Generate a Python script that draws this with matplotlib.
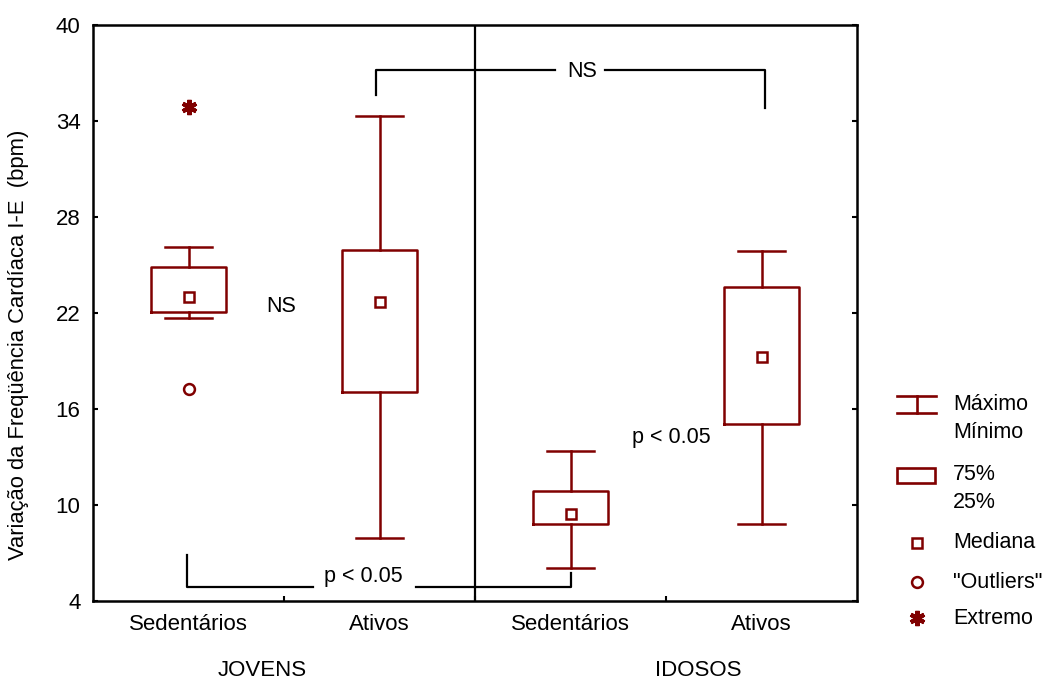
import matplotlib
matplotlib.use('Agg')
import matplotlib.pyplot as plt
import matplotlib.transforms as mtransforms
from matplotlib.patches import Rectangle

plt.rcParams['font.family'] = ['Liberation Sans', 'DejaVu Sans']

# ---- data ----
categories = ['Sedentários', 'Ativos', 'Sedentários', 'Ativos']
groups = ['JOVENS', 'IDOSOS']
whisker_high = [26.1, 34.3, 13.4, 25.9]
q3 = [24.85, 25.95, 10.9, 23.6]
median = [23.0, 22.7, 9.45, 19.25]
q1 = [22.05, 17.05, 8.8, 15.05]
whisker_low = [21.7, 7.95, 6.05, 8.8]
outliers = [[17.25], [], [], []]
extremes = [[34.9], [], [], []]
yticks = [4, 10, 16, 22, 28, 34, 40]

RED = '#800000'
W, H = 1048, 680
fig = plt.figure(figsize=(W / 100, H / 100), dpi=100)
ax = fig.add_axes([93 / W, (H - 601) / H, 764 / W, 576 / H])

pos = list(range(1, len(categories) + 1))
stats = [dict(med=m, q1=a, q3=b, whislo=lo, whishi=hi, fliers=[])
         for m, a, b, lo, hi in zip(median, q1, q3, whisker_low, whisker_high)]
lp = dict(color=RED, linewidth=1.8)
ax.bxp(stats, positions=pos, widths=0.39, capwidths=0.25, showfliers=False,
       boxprops=lp, whiskerprops=lp, capprops=lp,
       medianprops=dict(linewidth=0, alpha=0))
ax.plot(pos, median, ls='none', marker='s', ms=7.2, mfc='white', mec=RED, mew=1.8, zorder=5)
for p, outs in zip(pos, outliers):
    for v in outs:
        ax.plot(p, v, ls='none', marker='o', ms=7.8, mfc='white', mec=RED, mew=1.8, zorder=5)
for p, exs in zip(pos, extremes):
    for v in exs:
        ax.plot(p, v, ls='none', marker=(6, 2, 0), ms=11, mec=RED, mew=3, zorder=5)

ax.set_xlim(0.5, 4.5)
ax.set_ylim(4, 40)
ax.set_yticks(yticks)
ax.set_xticks(pos)
ax.set_xticklabels(categories)
ax.set_xticks([1.5, 2.5, 3.5], minor=True)
ax.tick_params(axis='x', which='major', length=0, pad=9, labelsize=16)
ax.tick_params(axis='x', which='minor', direction='in', length=3.5, width=1.5)
ax.tick_params(axis='y', direction='in', length=3.5, width=1.5, right=True,
               pad=9, labelsize=16)
for s in ax.spines.values():
    s.set_linewidth(1.8)

ax.axvline(2.5, color='black', lw=1.6)

# annotations
k = dict(color='black', lw=1.6, clip_on=False)
ax.text(1.485, 22.4, 'NS', ha='center', va='center', fontsize=15.5)
ax.text(3.53, 14.2, 'p < 0.05', ha='center', va='center', fontsize=15.5)
# bottom bracket
ax.plot([0.99, 0.99, 1.65], [6.85, 4.875, 4.875], **k)
ax.plot([2.19, 3, 3], [4.875, 4.875, 5.75], **k)
ax.text(1.915, 5.2, 'p < 0.05', ha='center', va='baseline', fontsize=15.5)
# top bracket
ax.plot([1.98, 1.98, 2.92], [35.6, 37.19, 37.19], **k)
ax.plot([3.18, 4.02, 4.02], [37.19, 37.19, 34.8], **k)
ax.text(3.06, 36.75, 'NS', ha='center', va='baseline', fontsize=15.5)

# group labels
tr = mtransforms.blended_transform_factory(ax.transData, ax.transAxes)
ax.text(1.385, -0.12, groups[0], transform=tr, ha='center', va='center', fontsize=16)
ax.text(3.67, -0.12, groups[1], transform=tr, ha='center', va='center', fontsize=16)

fig.text(19 / W, 1 - 345 / H, 'Variação da Freqüência Cardíaca I-E  (bpm)',
         rotation=90, ha='center', va='center', fontsize=15.8)

# legend (pixel coordinates overlay)
lg = fig.add_axes([0, 0, 1, 1])
lg.set_xlim(0, W)
lg.set_ylim(H, 0)
lg.axis('off')
lg.patch.set_alpha(0)
lk = dict(color=RED, lw=1.9)
lg.plot([897, 936], [396, 396], **lk)
lg.plot([897, 936], [413, 413], **lk)
lg.plot([917, 917], [396, 413], **lk)
lg.add_patch(Rectangle((897, 468), 38, 15, fill=False, edgecolor=RED, lw=1.9))
lg.plot(917, 543, marker='s', ms=7.2, mfc='white', mec=RED, mew=1.8)
lg.plot(917, 582, marker='o', ms=7.8, mfc='white', mec=RED, mew=1.8)
lg.plot(917, 618, marker=(6, 2, 0), ms=11, mec=RED, mew=3)
tx = 953
for y, t in [(405, 'Máximo'), (433, 'Mínimo'), (475, '75%'), (503, '25%'),
             (543, 'Mediana'), (582, '"Outliers"'), (618, 'Extremo')]:
    lg.text(tx, y, t, ha='left', va='center', fontsize=15.5)

fig.savefig('out.png', dpi=100)
